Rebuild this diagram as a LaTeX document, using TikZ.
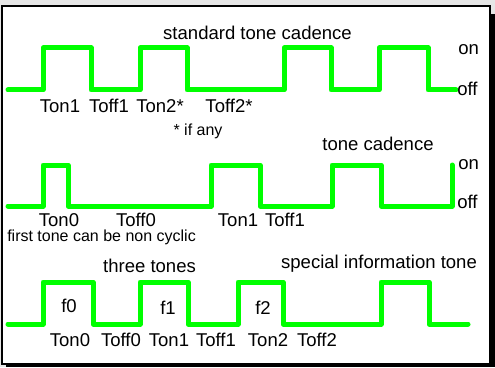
\documentclass[tikz,border=0pt]{standalone}
\usepackage{fontspec}
\setmainfont{Liberation Sans}
\definecolor{wavegreen}{HTML}{00FF00}
\definecolor{bggray}{HTML}{E6E6E6}
\begin{document}
\begin{tikzpicture}[x=0.75pt,y=-0.75pt,
  lbl/.style={font=\fontsize{13.9}{16}\selectfont, inner sep=0pt},
  small/.style={font=\fontsize{12}{14}\selectfont, inner sep=0pt},
  wave/.style={draw=wavegreen, line width=3.75pt, line join=round, line cap=round}]
\useasboundingbox (0,0) rectangle (495,367);
\fill[bggray] (0,0) rectangle (495,367);
\fill[black] (6,14) rectangle (495,367);
\filldraw[fill=white, draw=black, line width=1.5pt] (2,6) rectangle (490,364);

% waveform 1
\draw[wave] (8,90) -| (43,48) -| (91,90) -| (140,48) -| (187,90) -| (284,48) -| (331,90) -| (379,48) -| (428,90) -- (456,90);
\node[lbl] (t1) at (257.5,33) {standard tone cadence};
\node[lbl,anchor=west] (on1) at (458,50) {on};
\node[lbl,anchor=west] (off1) at (457,89) {off};
\node[lbl] (a1) at (60,106) {Ton1};
\node[lbl] (a2) at (109,106) {Toff1};
\node[lbl] (a3) at (160,106) {Ton2*};
\node[lbl] (a4) at (229,106) {Toff2*};
\node[small] (ifany) at (198,131) {* if any};

% waveform 2
\draw[wave] (8,206) -| (43,165) -| (68,206) -| (211,165) -| (260,206) -| (332,165) -| (381,206) -| (452,165);
\node[lbl] (t2) at (378,144) {tone cadence};
\node[lbl,anchor=west] (on2) at (458,165) {on};
\node[lbl,anchor=west] (off2) at (457,202) {off};
\node[lbl] (b1) at (59,220) {Ton0};
\node[lbl] (b2) at (136,220) {Toff0};
\node[lbl] (b3) at (238,220) {Ton1};
\node[lbl] (b4) at (285,220) {Toff1};
\node[small,anchor=west] (first) at (7,237) {first tone can be non cyclic};

% waveform 3
\draw[wave] (8,324) -| (43,282) -| (93,324) -| (140,282) -| (188,324) -| (238,282) -| (283,324) -| (381,282) -| (429,324) -- (468,324);
\node[lbl] (t3) at (149.5,266) {three tones};
\node[lbl] (t4) at (379,264) {special information tone};
\node[lbl] (f0) at (69,306) {f0};
\node[lbl] (f1) at (168,308) {f1};
\node[lbl] (f2) at (263,308) {f2};
\node[lbl] (c1) at (70,340) {Ton0};
\node[lbl] (c2) at (121,340) {Toff0};
\node[lbl] (c3) at (169,340) {Ton1};
\node[lbl] (c4) at (216,340) {Toff1};
\node[lbl] (c5) at (268,340) {Ton2};
\node[lbl] (c6) at (317,340) {Toff2};
\end{tikzpicture}
\end{document}
